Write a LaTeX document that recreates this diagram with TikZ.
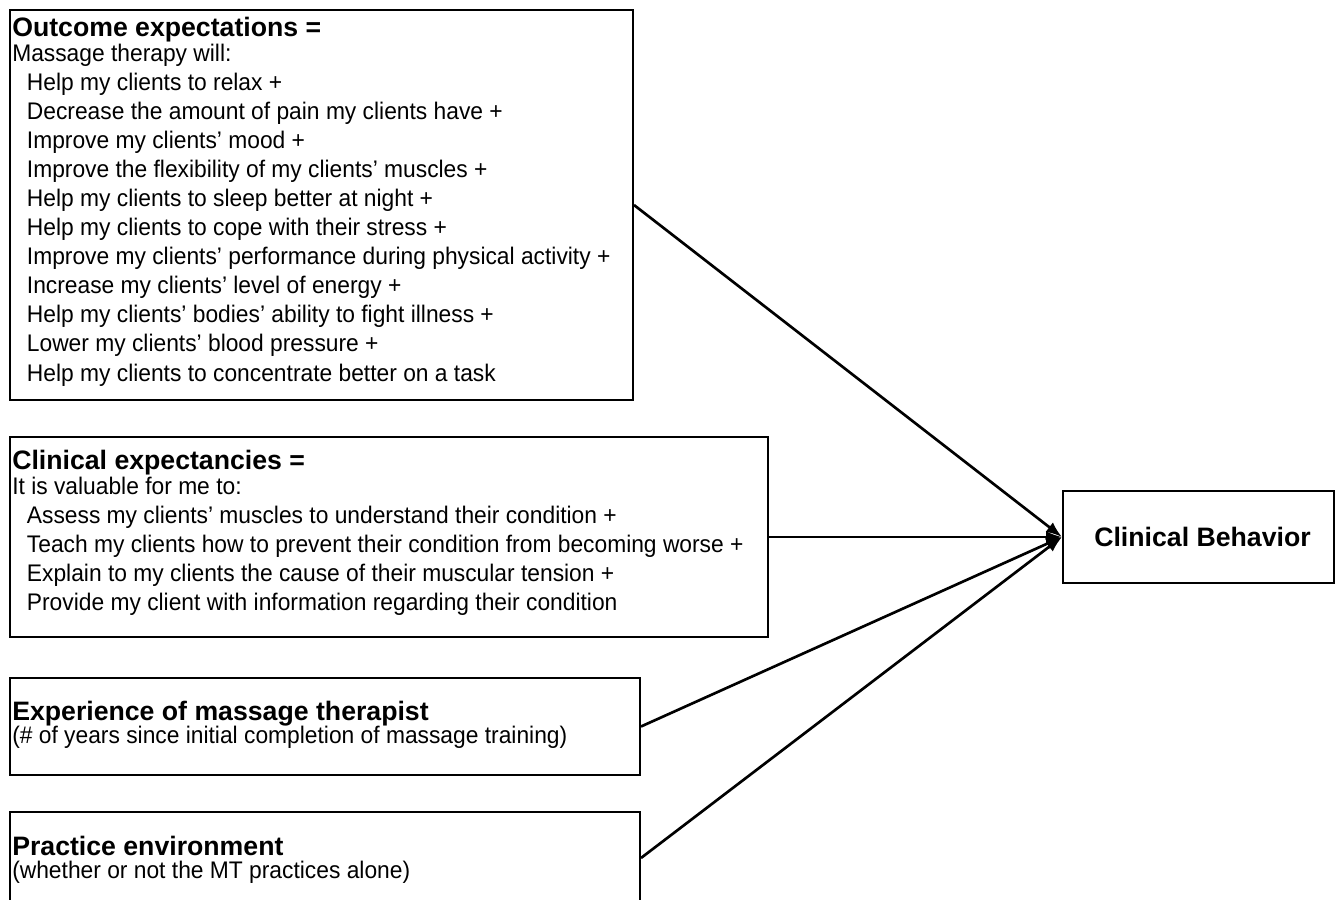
\documentclass[tikz,border=0pt]{standalone}
\usepackage{fontspec}
\setmainfont{Liberation Sans}
\newfontfamily\bodyfont[FakeStretch=0.95]{Liberation Sans}
\newcommand{\indt}{\hspace{11pt}}
\newcommand{\headline}[1]{{\rmfamily\fontsize{20}{22}\selectfont\bfseries #1}}
\usetikzlibrary{arrows.meta}
\begin{document}
\begin{tikzpicture}[x=0.75pt,y=-0.75pt,
  box/.style={draw,line width=1.5pt,inner sep=0pt},
  txt/.style={anchor=north west,align=left,inner sep=0pt,
    font=\bodyfont\fontsize{18}{21.8}\selectfont},
  link/.style={line width=2pt,-{Latex[length=12pt,width=9pt]}}]
  \useasboundingbox (0,0) rectangle (1336,900);
  \clip (0,0) rectangle (1336,900);

  % the four predictor boxes
  \node[box,minimum width=467.25pt,minimum height=292.5pt] (outcome) at (321.5,205) {};
  \node[box,minimum width=568.5pt,minimum height=150pt] (clinical) at (389,537) {};
  \node[box,minimum width=472.5pt,minimum height=72.75pt] (experience) at (325,726.5) {};
  \node[box,minimum width=472.5pt,minimum height=69pt] (practice) at (325,858) {};
  \node[box,minimum width=203.25pt,minimum height=69pt] (behavior) at (1198.5,537)
    {\fontsize{20}{24}\selectfont\bfseries\hspace{6pt}Clinical Behavior};

  \node[txt] (outcometext) at (12,17) {\headline{Outcome expectations =}\\[-3.25pt]
    Massage therapy will:\\
    \indt Help my clients to relax +\\
    \indt Decrease the amount of pain my clients have +\\
    \indt Improve my clients’ mood +\\
    \indt Improve the flexibility of my clients’ muscles +\\
    \indt Help my clients to sleep better at night +\\
    \indt Help my clients to cope with their stress +\\
    \indt Improve my clients’ performance during physical activity +\\
    \indt Increase my clients’ level of energy +\\
    \indt Help my clients’ bodies’ ability to fight illness +\\
    \indt Lower my clients’ blood pressure +\\
    \indt Help my clients to concentrate better on a task};
  \node[txt] (clinicaltext) at (12,450) {\headline{Clinical expectancies =}\\[-3.25pt]
    It is valuable for me to:\\
    \indt Assess my clients’ muscles to understand their condition +\\
    \indt Teach my clients how to prevent their condition from becoming worse +\\
    \indt Explain to my clients the cause of their muscular tension +\\
    \indt Provide my client with information regarding their condition};
  \node[txt] (experiencetext) at (12,701) {\headline{Experience of massage therapist}\\[-4.25pt]
    (\# of years since initial completion of massage training)};
  \node[txt] (practicetext) at (12,836) {\headline{Practice environment}\\[-5pt]
    (whether or not the MT practices alone)};

  % paths into the outcome
  \draw[link] (outcome.east) -- (behavior.west);
  \draw[link] (clinical.east) -- (behavior.west);
  \draw[link] (experience.east) -- (behavior.west);
  \draw[link] (practice.east) -- (behavior.west);
\end{tikzpicture}
\end{document}
